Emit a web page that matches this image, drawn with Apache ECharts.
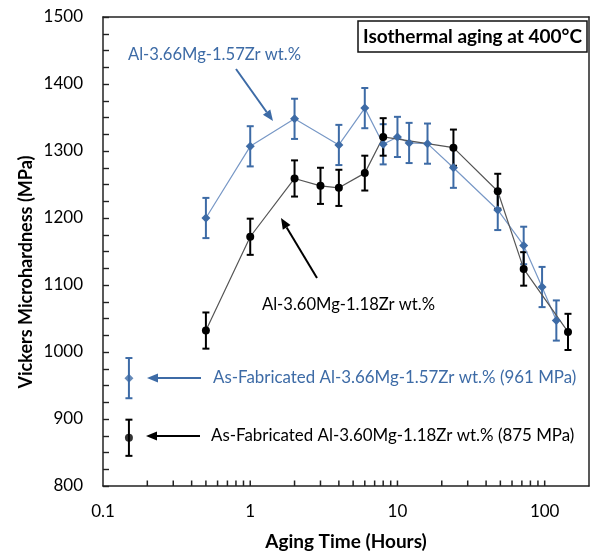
<!DOCTYPE html>
<html>
<head>
<meta charset="utf-8">
<script src="https://cdn.jsdelivr.net/npm/echarts@6/dist/echarts.min.js"></script>
<style>
html,body{margin:0;padding:0;background:#fff;}
#c{width:592px;height:559px;}
</style>
</head>
<body>
<div id="c"></div>
<script>
// ---- data ----
const hoursA = [0.5, 1, 2, 4, 6, 8, 10, 12, 16, 24, 48, 72, 96, 120];
const hvA    = [1200, 1307, 1348, 1309, 1364, 1310, 1321, 1312, 1311, 1275, 1212, 1159, 1097, 1047];
const errA   = [30, 30, 30, 30, 30, 30, 30, 30, 30, 30, 30, 28, 30, 30];

const hoursB = [0.5, 1, 2, 3, 4, 6, 8, 24, 48, 72, 144];
const hvB    = [1032, 1172, 1259, 1248, 1245, 1267, 1321, 1305, 1240, 1124, 1030];
const errB   = [27, 27, 27, 27, 27, 26, 28, 27, 26, 25, 27];

const asFabHours = [0.15];
const asFabA = [961];
const asFabErrA = [30];
const asFabB = [872];
const asFabErrB = [27];

const xMinorTicks = [0.2,0.3,0.4,0.5,0.6,0.7,0.8,0.9,2,3,4,5,6,7,8,9,20,30,40,50,60,70,80,90];
const xMajorTicks = [0.1, 1, 10, 100];

const BLUE = '#3d6ba6';
const BLUE_LINE = '#7898c6';
const BLACK = '#000000';
const FONT = 'Lato';

function errSeries(xs, ys, es, color) {
  return {
    type: 'custom',
    z: 3,
    data: xs.map((x, i) => [x, ys[i] - es[i], ys[i] + es[i]]),
    renderItem: function (params, api) {
      const lo = api.coord([api.value(0), api.value(1)]);
      const hi = api.coord([api.value(0), api.value(2)]);
      const w = 3.5;
      const st = { stroke: color, lineWidth: 2 };
      return {
        type: 'group',
        children: [
          { type: 'line', shape: { x1: lo[0], y1: lo[1], x2: hi[0], y2: hi[1] }, style: st },
          { type: 'line', shape: { x1: lo[0] - w, y1: lo[1], x2: lo[0] + w, y2: lo[1] }, style: st },
          { type: 'line', shape: { x1: hi[0] - w, y1: hi[1], x2: hi[0] + w, y2: hi[1] }, style: st }
        ]
      };
    }
  };
}

function xTickSeries(vals) {
  return {
    type: 'custom', z: 6,
    data: vals.map(v => [v, 800]),
    renderItem: function (params, api) {
      const p = api.coord([api.value(0), api.value(1)]);
      return { type: 'line', shape: { x1: p[0], y1: p[1], x2: p[0], y2: p[1] - 5.5 }, style: { stroke: '#222', lineWidth: 1.5 } };
    }
  };
}

function arrow(x1, y1, x2, y2, color) {
  const ang = Math.atan2(y2 - y1, x2 - x1);
  const L = 11, W = 4.5;
  const bx = x2 - L * Math.cos(ang), by = y2 - L * Math.sin(ang);
  const px = -Math.sin(ang) * W, py = Math.cos(ang) * W;
  return {
    type: 'group',
    children: [
      { type: 'line', shape: { x1: x1, y1: y1, x2: bx, y2: by }, style: { stroke: color, lineWidth: 2 } },
      { type: 'polygon', shape: { points: [[x2, y2], [bx + px, by + py], [bx - px, by - py]] }, style: { fill: color } }
    ]
  };
}

const frameAxisLine = { show: true, lineStyle: { color: '#222', width: 1.5 } };

const chart = echarts.init(document.getElementById('c'));
chart.setOption({
  animation: false,
  grid: { left: 103, top: 17, right: 3, bottom: 73 },
  xAxis: [{
    type: 'log',
    logBase: 10,
    min: 0.1,
    max: 200,
    name: 'Aging Time (Hours)',
    nameLocation: 'middle',
    nameGap: 46,
    nameTextStyle: { fontFamily: FONT, fontWeight: 'bold', fontSize: 19, color: '#000' },
    axisLine: frameAxisLine,
    axisTick: { show: false },
    splitLine: { show: false },
    axisLabel: {
      fontFamily: FONT, fontSize: 17, color: '#000', margin: 17,
      formatter: function (v) { return xMajorTicks.some(t => Math.abs(t - v) / t < 1e-6) ? String(v) : ''; }
    }
  }, {
    type: 'log', min: 0.1, max: 200, position: 'top',
    axisLine: frameAxisLine, axisTick: { show: false }, axisLabel: { show: false }, splitLine: { show: false }
  }],
  yAxis: [{
    type: 'value',
    min: 800,
    max: 1500,
    interval: 100,
    axisLine: frameAxisLine,
    axisTick: { show: true, inside: true, length: 6, lineStyle: { color: '#222', width: 1.4 } },
    minorTick: { show: true, splitNumber: 4, length: 6, lineStyle: { color: '#222', width: 1.4 } },
    splitLine: { show: false },
    axisLabel: { fontFamily: FONT, fontSize: 17, color: '#000', margin: 20, formatter: function (v) { return String(v); } }
  }, {
    type: 'value', min: 800, max: 1500, position: 'right',
    axisLine: frameAxisLine, axisTick: { show: false }, axisLabel: { show: false }, splitLine: { show: false }
  }],
  series: [
    xTickSeries(xMinorTicks.concat(xMajorTicks.slice(1))),
    errSeries(hoursA, hvA, errA, BLUE),
    errSeries(hoursB, hvB, errB, BLACK),
    errSeries(asFabHours, asFabA, asFabErrA, BLUE),
    errSeries(asFabHours, asFabB, asFabErrB, BLACK),
    {
      type: 'line', z: 4,
      data: hoursA.map((x, i) => [x, hvA[i]]),
      lineStyle: { color: BLUE_LINE, width: 1.2 },
      symbol: 'diamond', symbolSize: 9,
      itemStyle: { color: BLUE }
    },
    {
      type: 'line', z: 4,
      data: hoursB.map((x, i) => [x, hvB[i]]),
      lineStyle: { color: '#555', width: 1.2 },
      symbol: 'circle', symbolSize: 8,
      itemStyle: { color: BLACK }
    },
    {
      type: 'scatter', z: 5,
      data: asFabHours.map((x, i) => [x, asFabA[i]]),
      symbol: 'diamond', symbolSize: 9, itemStyle: { color: BLUE }
    },
    {
      type: 'scatter', z: 5,
      data: asFabHours.map((x, i) => [x, asFabB[i]]),
      symbol: 'circle', symbolSize: 8, itemStyle: { color: BLACK }
    }
  ],
  graphic: [
    { type: 'text', x: 26, y: 272, rotation: Math.PI / 2, z: 11, style: { text: 'Vickers Microhardness (MPa)', fontFamily: FONT, fontSize: 18, fontWeight: 'bold', fill: '#000', align: 'center', verticalAlign: 'middle' } },
    { type: 'rect', shape: { x: 358, y: 21, width: 229, height: 31 }, style: { fill: '#fff', stroke: '#111', lineWidth: 1.5 }, z: 10 },
    { type: 'text', x: 472.5, y: 36.5, z: 11, style: { text: 'Isothermal aging at 400°C', fontFamily: FONT, fontSize: 19, fontWeight: 'bold', fill: '#000', align: 'center', verticalAlign: 'middle' } },
    { type: 'text', x: 128, y: 55, z: 11, style: { text: 'Al-3.66Mg-1.57Zr wt.%', fontFamily: FONT, fontSize: 16.6, fill: BLUE, align: 'left', verticalAlign: 'middle' } },
    { type: 'text', x: 262, y: 305, z: 11, style: { text: 'Al-3.60Mg-1.18Zr wt.%', fontFamily: FONT, fontSize: 16.6, fill: '#000', align: 'left', verticalAlign: 'middle' } },
    { type: 'text', x: 213, y: 378, z: 11, style: { text: 'As-Fabricated Al-3.66Mg-1.57Zr wt.% (961 MPa)', fontFamily: FONT, fontSize: 16.9, fill: BLUE, align: 'left', verticalAlign: 'middle' } },
    { type: 'text', x: 211, y: 436, z: 11, style: { text: 'As-Fabricated Al-3.60Mg-1.18Zr wt.% (875 MPa)', fontFamily: FONT, fontSize: 16.9, fill: '#000', align: 'left', verticalAlign: 'middle' } },
    Object.assign(arrow(236, 69, 273, 121, BLUE), { z: 11 }),
    Object.assign(arrow(317, 278, 281, 218, '#000'), { z: 11 }),
    Object.assign(arrow(201, 378, 147, 378, BLUE), { z: 11 }),
    Object.assign(arrow(200, 436, 146, 436, '#000'), { z: 11 })
  ]
});
</script>
</body>
</html>
